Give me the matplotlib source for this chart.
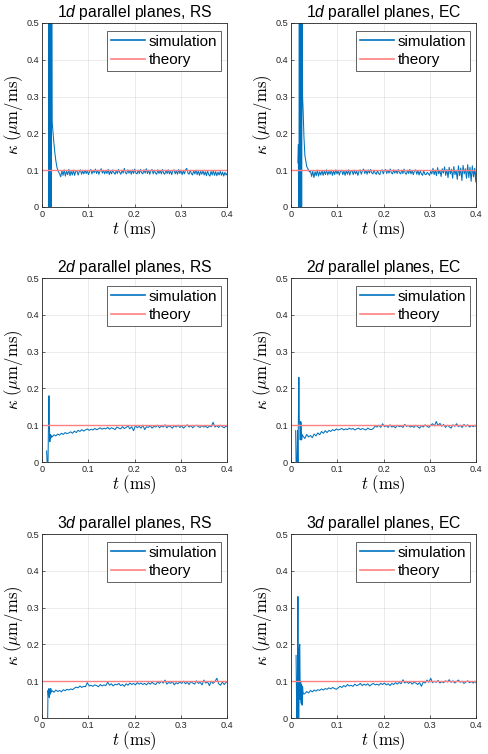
import numpy as np
import matplotlib
matplotlib.use("Agg")
import matplotlib.pyplot as plt

plt.rcParams["font.family"] = ["Liberation Sans", "DejaVu Sans"]
plt.rcParams["mathtext.fontset"] = "custom"
plt.rcParams["mathtext.rm"] = "Liberation Sans"
plt.rcParams["mathtext.it"] = "Liberation Sans:italic"

# ---- data (kappa in um/ms vs t in ms) ----
theory_kappa = 0.1
step_1d = 0.0025
step_23d = 0.004

# 1d, RS
t1_early = [0.014, 0.015, 0.016, 0.017, 0.018, 0.019, 0.020, 0.021, 0.022, 0.024,
            0.026, 0.028, 0.030, 0.032, 0.034, 0.036]
k1_early = [0.0, 0.8, -0.6, 1.1, -0.9, 0.7, -0.2, 0.6, 0.23, 0.20,
            0.17, 0.145, 0.125, 0.11, 0.10, 0.095]
t1_start = 0.038
k1_steady = [
    0.09, 0.082, 0.099, 0.086, 0.101, 0.084, 0.097, 0.088, 0.102, 0.085,
    0.098, 0.087, 0.1, 0.086, 0.097, 0.099, 0.087, 0.096, 0.101, 0.089,
    0.098, 0.09, 0.1, 0.091, 0.099, 0.088, 0.097, 0.102, 0.09, 0.099,
    0.093, 0.103, 0.091, 0.1, 0.089, 0.098, 0.104, 0.092, 0.1, 0.09,
    0.099, 0.091, 0.102, 0.088, 0.098, 0.09, 0.101, 0.093, 0.089, 0.099,
    0.091, 0.102, 0.094, 0.089, 0.1, 0.092, 0.105, 0.093, 0.09, 0.101,
    0.092, 0.1, 0.089, 0.101, 0.091, 0.103, 0.092, 0.09, 0.1, 0.091,
    0.102, 0.093, 0.09, 0.101, 0.092, 0.104, 0.091, 0.1, 0.089, 0.099,
    0.102, 0.09, 0.1, 0.092, 0.089, 0.101, 0.091, 0.099, 0.09, 0.102,
    0.092, 0.089, 0.1, 0.091, 0.101, 0.09, 0.099, 0.088, 0.098, 0.101,
    0.09, 0.099, 0.089, 0.102, 0.091, 0.1, 0.088, 0.098, 0.09, 0.101,
    0.105, 0.092, 0.089, 0.1, 0.091, 0.087, 0.099, 0.09, 0.1, 0.088,
    0.098, 0.086, 0.097, 0.089, 0.099, 0.087, 0.096, 0.085, 0.098, 0.088,
    0.084, 0.097, 0.087, 0.099, 0.086, 0.096, 0.085, 0.095, 0.087, 0.097,
    0.086, 0.095, 0.084, 0.094, 0.087, 0.092]

# 1d, EC
t2_early = [0.015, 0.016, 0.017, 0.018, 0.019, 0.020, 0.021, 0.022, 0.023, 0.024,
            0.025, 0.026, 0.028, 0.030, 0.032, 0.034, 0.036, 0.038, 0.040]
k2_early = [0.12, 0.17, -0.3, 0.9, -0.5, 1.0, -0.4, 0.8, -0.2, 0.7,
            0.3, 0.27, 0.19, 0.14, 0.125, 0.11, 0.105, 0.10, 0.095]
t2_start = 0.042
k2_steady = [
    0.099, 0.083, 0.097, 0.08, 0.096, 0.085, 0.1, 0.084, 0.096, 0.087,
    0.099, 0.086, 0.098, 0.088, 0.101, 0.087, 0.097, 0.089, 0.1, 0.086,
    0.098, 0.088, 0.101, 0.09, 0.099, 0.087, 0.097, 0.1, 0.088, 0.098,
    0.086, 0.099, 0.089, 0.101, 0.087, 0.097, 0.099, 0.088, 0.1, 0.09,
    0.098, 0.086, 0.097, 0.101, 0.089, 0.099, 0.103, 0.091, 0.1, 0.089,
    0.101, 0.092, 0.102, 0.093, 0.09, 0.1, 0.092, 0.089, 0.099, 0.091,
    0.088, 0.098, 0.101, 0.09, 0.099, 0.102, 0.091, 0.1, 0.092, 0.103,
    0.093, 0.09, 0.101, 0.092, 0.1, 0.091, 0.102, 0.093, 0.09, 0.1,
    0.091, 0.103, 0.092, 0.089, 0.1, 0.091, 0.102, 0.09, 0.099, 0.088,
    0.098, 0.101, 0.089, 0.099, 0.087, 0.098, 0.09, 0.086, 0.099, 0.089,
    0.088, 0.094, 0.091, 0.086, 0.097, 0.09, 0.105, 0.088, 0.1, 0.085,
    0.107, 0.09, 0.1, 0.083, 0.104, 0.092, 0.109, 0.086, 0.102, 0.08,
    0.108, 0.09, 0.103, 0.078, 0.11, 0.088, 0.1, 0.075, 0.112, 0.085,
    0.106, 0.072, 0.113, 0.09, 0.104, 0.078, 0.115, 0.08, 0.108, 0.07,
    0.112, 0.082, 0.105, 0.068, 0.14]

# 2d, RS
t3_early = [0.010, 0.011, 0.012, 0.013, 0.014, 0.015, 0.016, 0.017, 0.018, 0.019, 0.020]
k3_early = [0.03, 0.0, -0.05, 0.0, 0.1, 0.18, 0.1, 0.055, 0.075, 0.065, 0.072]
t3_start = 0.022
k3_steady = [
    0.068, 0.074, 0.071, 0.076, 0.073, 0.078, 0.075, 0.08, 0.077, 0.079,
    0.082, 0.078, 0.084, 0.08, 0.086, 0.083, 0.088, 0.084, 0.087, 0.09,
    0.086, 0.089, 0.087, 0.091, 0.088, 0.09, 0.093, 0.089, 0.092, 0.09,
    0.094, 0.089, 0.093, 0.091, 0.088, 0.095, 0.092, 0.09, 0.096, 0.091,
    0.094, 0.098, 0.09, 0.096, 0.085, 0.099, 0.093, 0.097, 0.092, 0.1,
    0.088, 0.096, 0.094, 0.099, 0.092, 0.097, 0.095, 0.1, 0.093, 0.098,
    0.095, 0.101, 0.093, 0.098, 0.096, 0.092, 0.099, 0.095, 0.1, 0.094,
    0.098, 0.092, 0.097, 0.101, 0.095, 0.099, 0.093, 0.098, 0.1, 0.096,
    0.094, 0.099, 0.095, 0.097, 0.093, 0.098, 0.096, 0.108, 0.095, 0.099,
    0.094, 0.1, 0.096, 0.093, 0.098, 0.095]

# 2d, EC
t4_early = [0.010, 0.011, 0.012, 0.013, 0.014, 0.015, 0.016, 0.017, 0.018, 0.019,
            0.020, 0.021, 0.022, 0.023, 0.024]
k4_early = [0.085, 0.0, -0.05, 0.0, 0.085, 0.0, 0.12, 0.23, 0.11, 0.10,
            0.06, 0.11, 0.105, 0.06, 0.075]
t4_start = 0.026
k4_steady = [
    0.07, 0.064, 0.075, 0.068, 0.072, 0.066, 0.076, 0.071, 0.079, 0.074,
    0.083, 0.078, 0.085, 0.08, 0.086, 0.083, 0.088, 0.085, 0.09, 0.087,
    0.089, 0.091, 0.087, 0.09, 0.088, 0.092, 0.089, 0.091, 0.087, 0.09,
    0.092, 0.088, 0.091, 0.089, 0.087, 0.092, 0.089, 0.088, 0.091, 0.098,
    0.095, 0.1, 0.094, 0.104, 0.096, 0.099, 0.094, 0.101, 0.095, 0.097,
    0.093, 0.1, 0.096, 0.098, 0.094, 0.102, 0.097, 0.099, 0.095, 0.098,
    0.094, 0.1, 0.096, 0.092, 0.099, 0.095, 0.101, 0.097, 0.094, 0.1,
    0.104, 0.098, 0.11, 0.099, 0.105, 0.097, 0.102, 0.094, 0.1, 0.096,
    0.092, 0.101, 0.097, 0.104, 0.096, 0.1, 0.094, 0.102, 0.097, 0.101,
    0.095, 0.099, 0.096, 0.1, 0.094]

# 3d, RS
t5_early = [0.012, 0.013, 0.014, 0.015, 0.016, 0.017, 0.018, 0.019, 0.020]
k5_early = [-0.02, 0.075, 0.06, 0.08, 0.055, 0.078, 0.065, 0.08, 0.07]
t5_start = 0.022
k5_steady = [
    0.074, 0.07, 0.076, 0.072, 0.075, 0.071, 0.077, 0.074, 0.078, 0.076,
    0.079, 0.077, 0.081, 0.084, 0.082, 0.087, 0.083, 0.086, 0.085, 0.096,
    0.087, 0.089, 0.086, 0.09, 0.088, 0.085, 0.091, 0.087, 0.09, 0.088,
    0.098, 0.089, 0.093, 0.087, 0.092, 0.09, 0.094, 0.088, 0.091, 0.086,
    0.093, 0.089, 0.095, 0.091, 0.094, 0.09, 0.096, 0.092, 0.095, 0.091,
    0.094, 0.09, 0.096, 0.092, 0.097, 0.093, 0.091, 0.098, 0.094, 0.1,
    0.095, 0.103, 0.092, 0.097, 0.094, 0.099, 0.09, 0.096, 0.093, 0.098,
    0.094, 0.1, 0.093, 0.097, 0.091, 0.099, 0.095, 0.092, 0.101, 0.094,
    0.097, 0.09, 0.103, 0.095, 0.098, 0.088, 0.1, 0.094, 0.099, 0.108,
    0.093, 0.089, 0.098, 0.091, 0.097, 0.099]

# 3d, EC
t6_early = [0.011, 0.012, 0.013, 0.014, 0.015, 0.016, 0.017, 0.018, 0.019, 0.020,
            0.021, 0.022, 0.023, 0.024, 0.025, 0.026, 0.027]
k6_early = [0.17, 0.05, -0.02, 0.12, 0.33, 0.0, -0.02, 0.19, 0.2, 0.05,
            0.1, 0.04, 0.09, 0.035, 0.085, 0.07, 0.065]
t6_start = 0.03
k6_steady = [
    0.066, 0.072, 0.068, 0.075, 0.071, 0.076, 0.073, 0.077, 0.075, 0.079,
    0.076, 0.08, 0.078, 0.082, 0.079, 0.083, 0.08, 0.078, 0.082, 0.086,
    0.083, 0.088, 0.085, 0.091, 0.087, 0.089, 0.086, 0.092, 0.088, 0.09,
    0.094, 0.088, 0.092, 0.089, 0.093, 0.087, 0.091, 0.094, 0.09, 0.092,
    0.089, 0.094, 0.091, 0.095, 0.09, 0.093, 0.088, 0.094, 0.091, 0.096,
    0.092, 0.097, 0.093, 0.104, 0.095, 0.099, 0.094, 0.098, 0.092, 0.097,
    0.095, 0.091, 0.096, 0.086, 0.098, 0.095, 0.103, 0.097, 0.108, 0.096,
    0.1, 0.097, 0.102, 0.095, 0.099, 0.096, 0.101, 0.098, 0.104, 0.097,
    0.101, 0.095, 0.099, 0.103, 0.097, 0.1, 0.094, 0.098, 0.101, 0.096,
    0.099, 0.095, 0.1, 0.092]

panels = [
    ("1", "RS", t1_early, k1_early, t1_start, step_1d, k1_steady),
    ("1", "EC", t2_early, k2_early, t2_start, step_1d, k2_steady),
    ("2", "RS", t3_early, k3_early, t3_start, step_23d, k3_steady),
    ("2", "EC", t4_early, k4_early, t4_start, step_23d, k4_steady),
    ("3", "RS", t5_early, k5_early, t5_start, step_23d, k5_steady),
    ("3", "EC", t6_early, k6_early, t6_start, step_23d, k6_steady),
]

W, H = 488, 754
fig = plt.figure(figsize=(W / 100, H / 100), dpi=100)

col_left = [42, 291]
row_top = [23, 278, 534]
ax_w, ax_h = 185, 184

sim_color = "#0072bd"
th_color = "#ff8080"
edge = "#262626"

for i, (dim, method, te, ke, t0, dt, ks) in enumerate(panels):
    r, c = divmod(i, 2)
    left = col_left[c] / W
    bottom = 1 - (row_top[r] + ax_h) / H
    ax = fig.add_axes([left, bottom, ax_w / W, ax_h / H])

    t = np.concatenate([te, t0 + dt * np.arange(len(ks))])
    k = np.concatenate([ke, ks])
    ax.plot(t, k, color=sim_color, lw=0.75, label="simulation")
    ax.plot([0, 0.4], [theory_kappa, theory_kappa], color=th_color, lw=1.0, label="theory")

    ax.set_xlim(0, 0.4)
    ax.set_ylim(0, 0.5)
    ax.set_xticks([0, 0.1, 0.2, 0.3, 0.4])
    ax.set_xticklabels(["0", "0.1", "0.2", "0.3", "0.4"])
    ax.set_yticks([0, 0.1, 0.2, 0.3, 0.4, 0.5])
    ax.set_yticklabels(["0", "0.1", "0.2", "0.3", "0.4", "0.5"])
    ax.tick_params(direction="in", length=2.5, width=0.5, labelsize=6.6,
                   colors=edge, pad=2)
    for s in ax.spines.values():
        s.set_color(edge)
        s.set_linewidth(0.6)
    ax.grid(True, color=edge, alpha=0.12, lw=0.5)
    ax.set_axisbelow(True)

    ax.set_title(dim + r"$\mathit{d}$ parallel planes, " + method,
                 fontsize=11.3, pad=4)
    ax.set_xlabel(r"$t\ (\mathrm{ms})$", fontsize=12, math_fontfamily="cm", labelpad=0)
    ax.set_ylabel(r"$\kappa\ (\mu\mathrm{m/ms})$", fontsize=12, math_fontfamily="cm", labelpad=1)

    leg = ax.legend(loc="upper right", bbox_to_anchor=(1 - 6 / ax_w, 1 - 8 / ax_h),
                    borderaxespad=0, fontsize=11, fancybox=False, framealpha=1,
                    handlelength=2.2, handletextpad=0.25, borderpad=0.25,
                    labelspacing=0.3)
    leg.get_frame().set_edgecolor(edge)
    leg.get_frame().set_linewidth(0.5)
    for ln in leg.get_lines():
        ln.set_linewidth(1.2)

fig.savefig("out.png", dpi=100, facecolor="white")
